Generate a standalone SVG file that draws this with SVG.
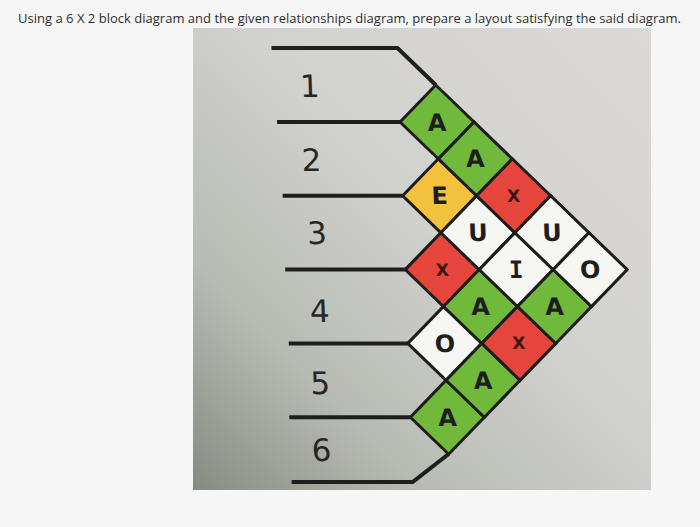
<svg xmlns="http://www.w3.org/2000/svg" xmlns:xlink="http://www.w3.org/1999/xlink" width="700" height="527" viewBox="0 0 700 527">
  <defs>
    <linearGradient id="bg" x1="1" y1="0" x2="0" y2="1">
      <stop offset="0" stop-color="#dcdad9"/>
      <stop offset="0.45" stop-color="#d1d1cd"/>
      <stop offset="0.75" stop-color="#b8bbb4"/>
      <stop offset="1" stop-color="#858c82"/>
    </linearGradient>
    <polygon id="d" points="-37,0 0,-37 37,0 0,37"/>
    <style>
      .title { font-family: "Open Sans", "Liberation Sans", sans-serif; font-size: 13px; fill: #2e2e2e; }
      .dia { stroke: #1c1c1c; stroke-width: 3; stroke-linejoin: miter; }
      .g { fill: #70b93a; }
      .y { fill: #f2c23c; }
      .r { fill: #e5453a; }
      .w { fill: #f6f6f3; }
      .lt { font-family: "DejaVu Sans", "Liberation Sans", sans-serif; font-weight: bold; font-size: 24px; fill: #1e1e1e; text-anchor: middle; }
      .lx { font-family: "DejaVu Sans", "Liberation Sans", sans-serif; font-weight: bold; font-size: 17px; fill: #3a1612; text-anchor: middle; }
      .li { font-family: "DejaVu Sans Mono", "Liberation Mono", monospace; font-weight: bold; font-size: 24px; fill: #1e1e1e; text-anchor: middle; }
      .num { font-family: "DejaVu Sans", "Liberation Sans", sans-serif; font-size: 31px; fill: #262626; text-anchor: middle; }
      .ln { fill: none; stroke: #1e1e1e; stroke-width: 4; stroke-linejoin: miter; }
    </style>
  </defs>

  <rect x="0" y="0" width="700" height="527" fill="#f6f6f6"/>
  <text class="title" x="18" y="23" textLength="663" lengthAdjust="spacingAndGlyphs">Using a 6 X 2 block diagram and the given relationships diagram, prepare a layout satisfying the said diagram.</text>

  <rect x="193" y="28" width="458" height="462" fill="url(#bg)"/>

  <g transform="translate(-4.2 0) skewX(2)">
    <g id="connectors">
      <polyline class="ln" points="274,48 400,48 437,85"/>
      <line class="ln" x1="277" y1="122" x2="400" y2="122"/>
      <line class="ln" x1="280" y1="195.8" x2="400" y2="195.8"/>
      <line class="ln" x1="280" y1="269.6" x2="400" y2="269.6"/>
      <line class="ln" x1="281" y1="343.4" x2="400" y2="343.4"/>
      <line class="ln" x1="279" y1="417.2" x2="400" y2="417.2"/>
      <polyline class="ln" points="437,454 400,482 279,482"/>
    </g>

    <g id="dept1"><text class="num" x="311" y="97">1</text></g>
    <g id="dept2"><text class="num" x="310" y="171">2</text></g>
    <g id="dept3"><text class="num" x="313" y="244">3</text></g>
    <g id="dept4"><text class="num" x="313" y="322">4</text></g>
    <g id="dept5"><text class="num" x="311" y="394">5</text></g>
    <g id="dept6"><text class="num" x="310" y="461">6</text></g>

    <g id="r12" transform="translate(437 122)"><use xlink:href="#d" href="#d" class="dia g"/><text class="lt" y="8.5">A</text></g>
    <g id="r23" transform="translate(437 195.8)"><use xlink:href="#d" href="#d" class="dia y"/><text class="lt" y="8.5">E</text></g>
    <g id="r34" transform="translate(437 269.6)"><use xlink:href="#d" href="#d" class="dia r"/><text class="lx" y="6">X</text></g>
    <g id="r45" transform="translate(437 343.4)"><use xlink:href="#d" href="#d" class="dia w"/><text class="lt" y="8.5">O</text></g>
    <g id="r56" transform="translate(437 417.2)"><use xlink:href="#d" href="#d" class="dia g"/><text class="lt" y="8.5">A</text></g>

    <g id="r13" transform="translate(474 158.9)"><use xlink:href="#d" href="#d" class="dia g"/><text class="lt" y="8.5">A</text></g>
    <g id="r24" transform="translate(474 232.7)"><use xlink:href="#d" href="#d" class="dia w"/><text class="lt" y="8.5">U</text></g>
    <g id="r35" transform="translate(474 306.5)"><use xlink:href="#d" href="#d" class="dia g"/><text class="lt" y="8.5">A</text></g>
    <g id="r46" transform="translate(474 380.3)"><use xlink:href="#d" href="#d" class="dia g"/><text class="lt" y="8.5">A</text></g>

    <g id="r14" transform="translate(511 195.8)"><use xlink:href="#d" href="#d" class="dia r"/><text class="lx" y="6">X</text></g>
    <g id="r25" transform="translate(511 269.6)"><use xlink:href="#d" href="#d" class="dia w"/><text class="li" y="8.5">I</text></g>
    <g id="r36" transform="translate(511 343.4)"><use xlink:href="#d" href="#d" class="dia r"/><text class="lx" y="6">X</text></g>

    <g id="r15" transform="translate(548 232.7)"><use xlink:href="#d" href="#d" class="dia w"/><text class="lt" y="8.5">U</text></g>
    <g id="r26" transform="translate(548 306.5)"><use xlink:href="#d" href="#d" class="dia g"/><text class="lt" y="8.5">A</text></g>

    <g id="r16" transform="translate(585 269.6)"><use xlink:href="#d" href="#d" class="dia w"/><text class="lt" y="8.5">O</text></g>
  </g>
</svg>
